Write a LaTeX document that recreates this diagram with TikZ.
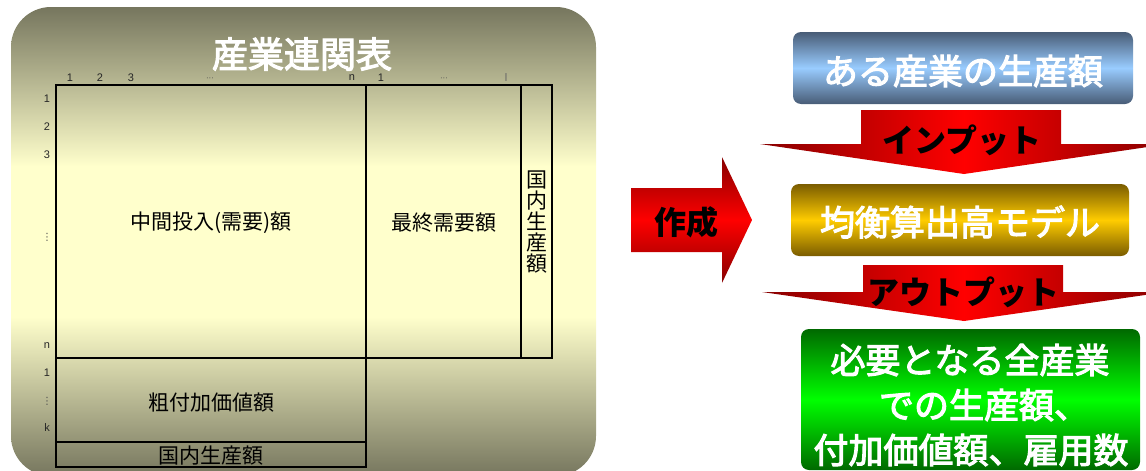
\documentclass[tikz,border=0pt]{standalone}
\usepackage{fontspec}
\setmainfont{Liberation Sans}
\newfontfamily\jp{Noto Sans CJK JP}
\newfontfamily\jpm[FakeBold=3]{Noto Sans CJK JP}
\newfontfamily\djv{DejaVu Sans}
\definecolor{pE}{RGB}{118,118,94}
\definecolor{pM}{RGB}{255,255,204}
\definecolor{blE}{RGB}{72,92,118}
\definecolor{blM}{RGB}{153,204,255}
\definecolor{gdE}{RGB}{122,92,0}
\definecolor{gdM}{RGB}{255,204,0}
\definecolor{grE}{RGB}{0,105,0}
\definecolor{grM}{RGB}{0,255,0}
\definecolor{rdE}{RGB}{135,0,0}
\definecolor{rdM}{RGB}{255,0,0}
\pgfdeclareverticalshading{panelshade}{100bp}{color(0bp)=(pE); color(25bp)=(pE); color(42bp)=(pM); color(58bp)=(pM); color(75bp)=(pE); color(100bp)=(pE)}
\begin{document}
\begin{tikzpicture}[x=1pt,y=-1pt,
  small/.style={font=\fontsize{11}{12}\selectfont, text=black!85, inner sep=0},
  tiny/.style={font=\fontsize{8}{8}\selectfont, text=black!70, inner sep=0},
  vdots/.style={font=\djv\fontsize{10}{12}\selectfont, text=black!70, inner sep=0},
  cell/.style={font=\jp\fontsize{21}{21}\selectfont, inner sep=0},
  tline/.style={line width=2.3pt, black},
  rbox/.style={rounded corners=8pt, inner sep=0},
  wtxt/.style={font=\jpm\fontsize{35}{40}\selectfont, text=white, inner sep=0},
  btxt/.style={font=\jp\bfseries\fontsize{32}{36}\selectfont, text=black, inner sep=0},
  redh/.style={left color=rdE, right color=rdE, middle color=rdM},
  redv/.style={top color=rdE, bottom color=rdE, middle color=rdM},
]
\useasboundingbox (0,0) rectangle (1146,471);
% left panel
\path[shading=panelshade, rounded corners=40pt] (11,7) rectangle (596,476);
\node[font=\jpm\fontsize{36}{40}\selectfont, text=white, inner sep=0] (title) at (302,54) {産業連関表};
% column labels
\node[small] (c1) at (70,78) {1};
\node[small] (c2) at (100,78) {2};
\node[small] (c3) at (131,78) {3};
\node[tiny] (c4) at (210,79) {···};
\node[small] (c5) at (352,78) {n};
\node[small] (c6) at (381,78) {1};
\node[tiny] (c7) at (444,79) {···};
\node[small, text=black!60] (c8) at (506,78) {l};
% row labels
\node[small] (r1) at (47,99) {1};
\node[small] (r2) at (47,127) {2};
\node[small] (r3) at (47,155) {3};
\node[vdots] (r4) at (47,237) {⋮};
\node[small] (r5) at (47,346) {n};
\node[small] (r6) at (47,373) {1};
\node[vdots] (r7) at (47,401) {⋮};
\node[small] (r8) at (47,428) {k};
% table
\draw[tline] (56,85) rectangle (552,358);
\draw[tline] (366,85) -- (366,467);
\draw[tline] (521,85) -- (521,358);
\draw[tline] (56,358) rectangle (366,467);
\draw[tline] (56,442) -- (366,442);
\node[cell] (mid) at (211,223) {中間投入(需要)額};
\node[cell] (fin) at (444,223) {最終需要額};
\node[cell, align=center] (dom) at (537,222) {国\\内\\生\\産\\額};
\node[cell] (va) at (211,403) {粗付加価値額};
\node[cell] (dom2) at (211,456) {国内生産額};
% right side
\path[redv] (631,188) -- (722,188) -- (722,157) -- (752,220) -- (722,283) -- (722,252) -- (631,252) -- cycle;
\node[btxt] (sak) at (686,222) {作成};
\node[rbox, minimum width=340pt, minimum height=72pt, top color=blE, bottom color=blE, middle color=blM] (b1) at (963,68) {};
\node[wtxt] (b1t) at (963,71) {ある産業の生産額};
\path[redh] (861,110) -- (1061,110) -- (1061,144) -- (1168,144) -- (964,174) -- (760,144) -- (861,144) -- cycle;
\node[btxt] (inp) at (962,140) {インプット};
\node[rbox, minimum width=338pt, minimum height=72pt, top color=gdE, bottom color=gdE, middle color=gdM] (b2) at (960,220) {};
\node[wtxt] (b2t) at (960,222) {均衡算出高モデル};
\path[redh] (863,265) -- (1063,265) -- (1063,292) -- (1166,292) -- (964,321) -- (762,292) -- (863,292) -- cycle;
\node[btxt] (outp) at (963,292) {アウトプット};
\node[rbox, minimum width=339pt, minimum height=141pt, top color=grE, bottom color=grE, middle color=grM] (b3) at (970.5,399.5) {};
\node[wtxt] (g1) at (970,360) {必要となる全産業};
\node[wtxt] (g2) at (984,405) {での生産額、};
\node[wtxt] (g3) at (971,450) {付加価値額、雇用数};
\end{tikzpicture}
\end{document}
